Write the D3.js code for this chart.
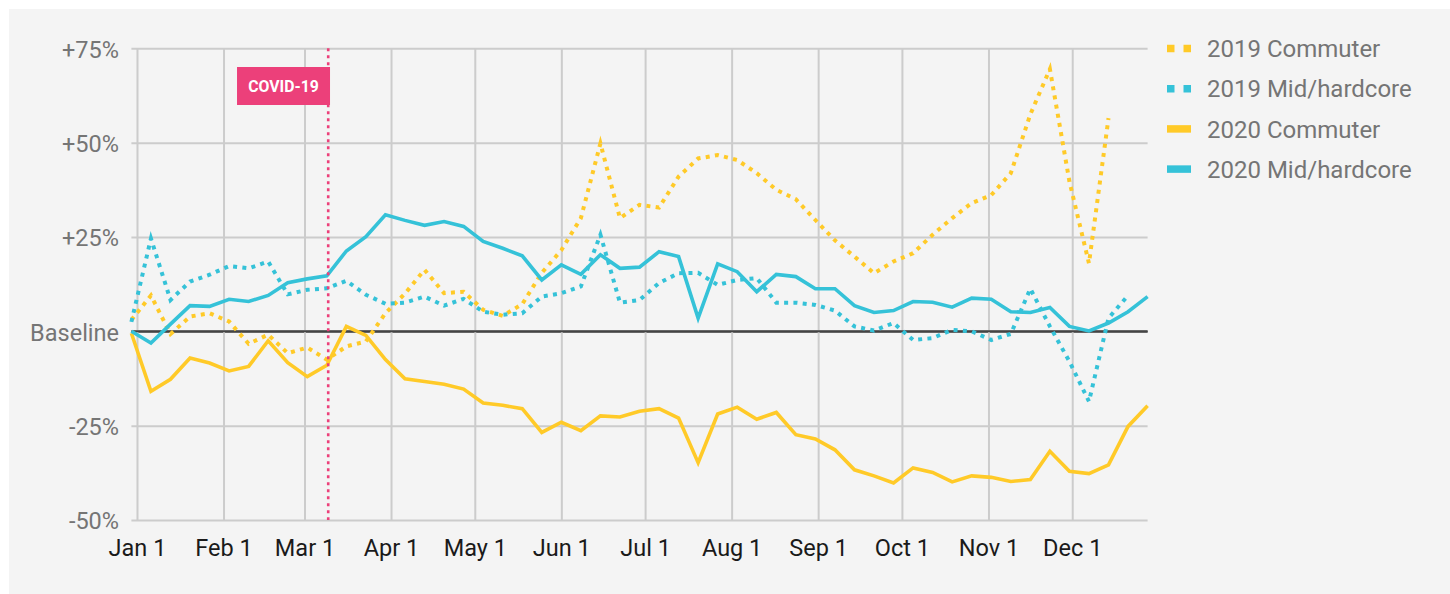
<!DOCTYPE html>
<html>
<head>
<meta charset="utf-8">
<script src="https://cdn.jsdelivr.net/npm/d3@7/dist/d3.min.js"></script>
<style>
  html, body { margin: 0; padding: 0; background: #ffffff; }
  svg { display: block; font-family: Roboto, "Noto Sans", sans-serif; }
</style>
</head>
<body>
<svg id="chart" width="1450" height="594"></svg>
<script>
// ---- data ----
const weeks = [
  "2019-12-30","2020-01-06","2020-01-13","2020-01-20","2020-01-27","2020-02-03","2020-02-10","2020-02-17","2020-02-24",
  "2020-03-02","2020-03-09","2020-03-16","2020-03-23","2020-03-30","2020-04-06","2020-04-13","2020-04-20","2020-04-27",
  "2020-05-04","2020-05-11","2020-05-18","2020-05-25","2020-06-01","2020-06-08","2020-06-15","2020-06-22","2020-06-29",
  "2020-07-06","2020-07-13","2020-07-20","2020-07-27","2020-08-03","2020-08-10","2020-08-17","2020-08-24","2020-08-31",
  "2020-09-07","2020-09-14","2020-09-21","2020-09-28","2020-10-05","2020-10-12","2020-10-19","2020-10-26","2020-11-02",
  "2020-11-09","2020-11-16","2020-11-23","2020-11-30","2020-12-07","2020-12-14","2020-12-21","2020-12-28"
];
const commuter2019 = [3.0,9.5,-0.7,3.9,4.8,2.6,-3.3,-0.9,-5.8,-4.3,-7.5,-4.0,-2.7,4.8,10.0,16.3,10.1,10.5,5.7,4.1,7.2,15.5,21.5,30.0,49.8,30.0,33.5,32.8,41.0,45.8,46.7,45.4,41.9,37.5,35.0,29.5,24.1,19.8,15.4,18.5,20.7,25.6,30.0,34.0,36.1,41.9,57.5,69.5,39.7,18.0,56.5,null,null];
const mid2019 = [2.5,24.6,8.3,13.2,15.0,17.3,16.7,18.5,9.8,11.0,11.4,13.4,9.7,7.3,7.6,9.2,6.8,8.6,5.2,4.4,4.8,9.2,10.1,11.9,25.6,7.6,8.3,12.8,15.4,15.5,12.3,13.6,14.1,7.6,7.6,7.0,5.5,1.3,0.2,2.2,-2.3,-1.8,0.4,0.0,-2.3,-0.7,11.3,1.3,-8.0,-18.6,3.5,9.5,null];
const commuter2020 = [-0.5,-15.9,-12.7,-7.1,-8.4,-10.5,-9.3,-2.5,-8.3,-12.0,-9.0,1.3,-1.1,-7.5,-12.6,-13.3,-14.0,-15.3,-19.0,-19.6,-20.5,-26.8,-24.1,-26.3,-22.4,-22.7,-21.2,-20.5,-23.0,-34.8,-21.9,-20.1,-23.3,-21.5,-27.4,-28.5,-31.4,-36.7,-38.3,-40.2,-36.2,-37.4,-39.9,-38.3,-38.7,-39.8,-39.3,-31.8,-37.1,-37.7,-35.4,-25.2,-19.7];
const mid2020 = [0.0,-3.1,1.9,6.8,6.6,8.5,7.9,9.5,12.9,13.9,14.7,21.3,25.1,30.9,29.4,28.1,29.1,27.8,23.8,22.0,20.0,13.6,17.6,15.1,20.3,16.7,17.0,21.1,19.8,3.5,17.9,15.8,10.5,15.1,14.5,11.3,11.3,6.8,5.0,5.5,7.9,7.7,6.4,8.8,8.5,5.2,5.0,6.3,1.3,0.1,2.2,5.2,9.2];

const seriesNames = ["2019 Commuter","2019 Mid/hardcore","2020 Commuter","2020 Mid/hardcore"];
const seriesValues = [commuter2019, mid2019, commuter2020, mid2020];
const seriesColors = ["#FFCA28","#35C2D8","#FFCA28","#35C2D8"];
const seriesDotted = [true, true, false, false];

const monthTicks = ["2020-01-01","2020-02-01","2020-03-01","2020-04-01","2020-05-01","2020-06-01","2020-07-01","2020-08-01","2020-09-01","2020-10-01","2020-11-01","2020-12-01"];
const monthLabels = ["Jan 1","Feb 1","Mar 1","Apr 1","May 1","Jun 1","Jul 1","Aug 1","Sep 1","Oct 1","Nov 1","Dec 1"];
const yTicks = [-50,-25,0,25,50,75];
const yLabels = ["-50%","-25%","Baseline","+25%","+50%","+75%"];
const covidDate = "2020-03-09T12:00:00Z";
const covidLabel = "COVID-19";

// ---- layout ----
const svg = d3.select("#chart");
const W = 1450, H = 594;
const x0 = 131.4, x1 = 1147.6, yTop = 48.3, yBot = 520;

svg.append("rect").attr("x", 9).attr("y", 9).attr("width", W - 9).attr("height", H - 9).attr("fill", "#f4f4f4");

const parse = s => new Date(s.length === 10 ? s + "T00:00:00Z" : s);
const dates = weeks.map(parse);
const x = d3.scaleUtc().domain([dates[0], dates[dates.length - 1]]).range([x0, x1]);
const y = d3.scaleLinear().domain([-50, 75]).range([yBot, yTop]);

// y axis + horizontal grid
const yAxis = d3.axisLeft(y).tickValues(yTicks).tickFormat((d, i) => yLabels[i])
  .tickSizeInner(-(x1 - x0)).tickSizeOuter(0).tickPadding(12.4);
const gy = svg.append("g").attr("transform", `translate(${x0},0)`).call(yAxis);
gy.select(".domain").remove();
gy.selectAll(".tick line").attr("stroke", d => d === 0 ? "#444444" : "#cccccc").attr("stroke-width", 2);
gy.selectAll(".tick text").attr("fill", "#757575").attr("font-size", "23.5px").attr("dy", "0.38em")
  .attr("font-family", "Roboto");

// x axis + vertical grid
const xAxis = d3.axisBottom(x).tickValues(monthTicks.map(parse)).tickFormat((d, i) => monthLabels[i])
  .tickSizeInner(-(yBot - yTop)).tickSizeOuter(0).tickPadding(19.3);
const gx = svg.append("g").attr("transform", `translate(0,${yBot})`).call(xAxis);
gx.select(".domain").remove();
gx.selectAll(".tick line").attr("stroke", "#cccccc").attr("stroke-width", 2);
gx.selectAll(".tick text").attr("fill", "#1a1a1a").attr("font-size", "23.5px").attr("font-family", "Roboto");

// keep baseline on top of vertical grid lines
svg.append("line").attr("x1", x0).attr("x2", x1).attr("y1", y(0)).attr("y2", y(0))
  .attr("stroke", "#444444").attr("stroke-width", 2);

// series
const line = d3.line().defined(d => d.v !== null).x(d => x(d.t)).y(d => y(d.v));
seriesValues.forEach((vals, k) => {
  const pts = vals.map((v, i) => ({ t: dates[i], v }));
  svg.append("path").datum(pts).attr("d", line)
    .attr("fill", "none").attr("stroke", seriesColors[k])
    .attr("stroke-width", seriesDotted[k] ? 4 : 3.6)
    .attr("stroke-dasharray", seriesDotted[k] ? "4 5.3" : null);
});

// COVID marker
const cx = x(parse(covidDate));
svg.append("line").attr("x1", cx).attr("x2", cx).attr("y1", yTop).attr("y2", yBot)
  .attr("stroke", "#EC407A").attr("stroke-width", 2.6).attr("stroke-dasharray", "3 4");
svg.append("rect").attr("x", cx + 1.8 - 93).attr("y", 67).attr("width", 93).attr("height", 38).attr("fill", "#EC407A");
svg.append("text").attr("x", cx + 1.8 - 46.5).attr("y", 91.6).attr("text-anchor", "middle")
  .attr("fill", "#ffffff").attr("font-size", "15.8px").attr("font-weight", "bold").attr("font-family", "Roboto")
  .text(covidLabel);

// legend
const lg = svg.append("g");
seriesNames.forEach((name, k) => {
  const cy = 48.5 + k * 40.2;
  lg.append("line").attr("x1", 1167).attr("x2", 1191).attr("y1", cy).attr("y2", cy)
    .attr("stroke", seriesColors[k]).attr("stroke-width", 7.5)
    .attr("stroke-dasharray", seriesDotted[k] ? "7.5 9" : null);
  lg.append("text").attr("x", 1207).attr("y", cy).attr("dy", "0.36em")
    .attr("fill", "#757575").attr("font-size", "24px").attr("font-family", "Roboto").text(name);
});
</script>
</body>
</html>
